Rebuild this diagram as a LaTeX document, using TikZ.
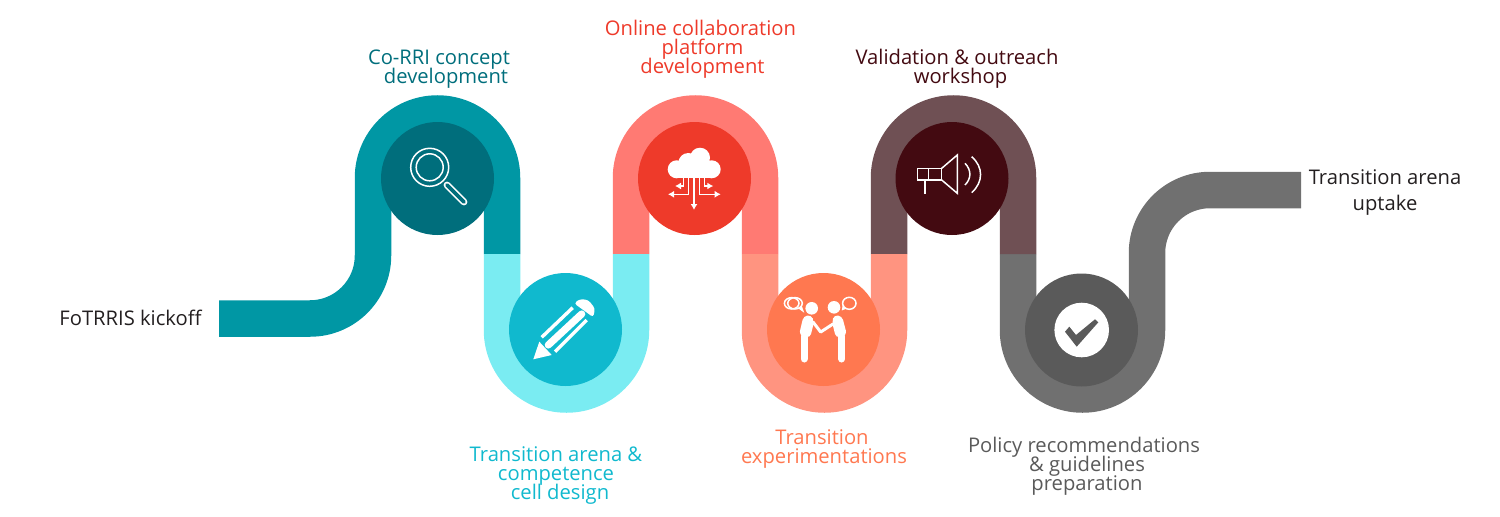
\documentclass[tikz,border=0pt]{standalone}
\usepackage{fontspec}
\setmainfont{Open Sans}
\usepackage{xcolor}
\usetikzlibrary{arrows.meta}
\definecolor{tealband}{HTML}{0097A4}
\definecolor{tealdisc}{HTML}{006E7C}
\definecolor{cyanband}{HTML}{7AECF2}
\definecolor{cyandisc}{HTML}{10B9CE}
\definecolor{pinkband}{HTML}{FF7A73}
\definecolor{reddisc}{HTML}{EE3A2A}
\definecolor{salmonband}{HTML}{FF9480}
\definecolor{orangedisc}{HTML}{FF7850}
\definecolor{mauveband}{HTML}{6F5054}
\definecolor{maroondisc}{HTML}{430A11}
\definecolor{greyband}{HTML}{707070}
\definecolor{greydisc}{HTML}{5A5A5A}
\definecolor{kicktext}{HTML}{231F20}
\newcommand\capfont{\fontsize{10.1}{9.5}\selectfont\lineskiplimit-10pt\relax}
\tikzset{>=latex}
\tikzset{
	band/.style={line width=18.25pt,draw=#1},
	disc/.style={circle,minimum size=56.5pt,inner sep=0pt,fill=#1},
	caption/.style={align=center,font=\capfont,text=#1,inner sep=0pt},
	iconline/.style={draw=white,line width=0.75pt}
}

\begin{document}
\begin{tikzpicture}[x=0.5pt,y=0.5pt]
		\useasboundingbox (0,0) rectangle (1500,516);
		\def\archband#1#2{ % #1 Colour, #2 Left leg
			\draw[band=#1] (#2,262) -- ++(0,76) arc(180:0:64.5) -- ++(0,-76);
		}
		\def\dipband#1#2{ % #1 Colour, #2 Left leg
			\draw[band=#1] (#2,262) -- ++(0,-76) arc(180:360:64.5) -- ++(0,76);
		}
		% ends of the ribbon
		\draw[band=tealband] (219,197.5) -- (310,197.5) arc(-90:0:63) -- (373,338) arc(180:0:64.5) -- (502,262);
		\draw[band=greyband] (1018,262) -- (1018,186) arc(180:360:64.5) -- (1147,263) arc(180:90:63) -- (1301,326);
		\foreach \bandcol/\legx in {pinkband/631,mauveband/889} {
			\archband{\bandcol}{\legx}
		}
		\foreach \bandcol/\legx in {cyanband/502,salmonband/760} {
			\dipband{\bandcol}{\legx}
		}
		% discs
		\node[disc=tealdisc] (search) at (437.5,337.5) {};
		\node[disc=cyandisc] (pencil) at (565.5,186.5) {};
		\node[disc=reddisc] (cloud) at (694.5,337.5) {};
		\node[disc=orangedisc] (people) at (823.5,186.5) {};
		\node[disc=maroondisc] (horn) at (952,337.5) {};
		\node[disc=greydisc] (check) at (1081.5,186) {};
		% magnifier
		\draw[iconline] (429.7,348.7) circle (19);
		\draw[iconline] (429.7,348.7) circle (13.5);
		\draw[white,line width=3.4pt,line cap=round] (447,331) -- (464,314);
		\draw[tealdisc,line width=1.9pt,line cap=round] (447,331) -- (464,314);
		% pencil
		\fill[white] (533.3,156.7) -- (539.3,174.3) -- (551.7,161) -- cycle;
		\draw[white,line width=1.7pt] (541.7,178.7) -- (572.7,208.3);
		\draw[white,line width=3.6pt,line cap=round] (548.3,171) -- (581.7,202);
		\draw[white,line width=1.7pt] (555,164.3) -- (586.7,196);
		\fill[white,rounded corners=1.5pt] (574,212.7) -- (580,217) -- (588.3,216) -- (595,207.7) -- (593.3,198.7) -- cycle;
		% cloud
		\fill[white] (676.7,346.7) circle (9) (688.3,353) circle (10) (700,358.3) circle (10) (711.7,346.7) circle (9);
		\fill[white] (676.7,337.7) rectangle (711.7,350);
		\begin{scope}[iconline,>={Latex[length=3pt,width=3.5pt]}]
			\draw[->] (694,338) -- (694,306);
			\draw[->] (688.3,338) -- (688.3,321.7) -- (668,321.7);
			\draw[->] (699.3,338) -- (699.3,321.7) -- (720.7,321.7);
			\draw[->] (683.3,338) -- (683.3,330) -- (675,330);
			\draw[->] (704.3,338) -- (704.3,330) -- (713.3,330);
		\end{scope}
		% two people shaking hands
		\fill[white] (811.7,207.7) circle (6.3) (834,208.7) circle (6.3);
		\draw[white,line width=3.5pt,line cap=round] (804,180) -- (804,157) (841.7,180) -- (841.7,157);
		\fill[white,rounded corners=2pt] (803.5,200) -- (811.5,201) -- (814,194) -- (810,178) -- (799,181) -- cycle;
		\fill[white,rounded corners=2pt] (842,200) -- (834,201) -- (832,194) -- (836,178) -- (847,181) -- cycle;
		\draw[white,line width=1.5pt,line cap=round,line join=round] (813,194) -- (820.7,184) -- (833,192);
		\draw[iconline] (795,212.7) ellipse (7.3 and 5.7);
		\draw[iconline] (791.7,212.7) ellipse (7.3 and 5.7);
		\draw[iconline] (799,208) -- (802.7,205.3) -- (801,210);
		\draw[iconline] (849.3,212.7) ellipse (6.7 and 6);
		\draw[iconline] (845,207.5) -- (842.7,206.7) -- (843.5,211);
		% megaphone
		\draw[iconline] (917.3,347.7) rectangle (941.7,336);
		\draw[iconline] (928.3,347.7) -- (928.3,336);
		\draw[iconline] (925,336) -- (925,321.7);
		\draw[iconline] (941.7,347.7) -- (957.3,361) -- (957.3,322.7) -- (941.7,336);
		\draw[iconline] (965,352.7) .. controls (971.5,346) and (971.5,337.5) .. (965,331);
		\draw[iconline] (971.7,359.3) .. controls (983.5,349) and (983.5,334) .. (971.7,323.3);
		% tick
		\fill[white] (1081.7,186) circle (27.3);
		\fill[greydisc] (1065,184.3) -- (1069.3,189.3) -- (1076,181) -- (1095,196.7) -- (1098.3,193.7) -- (1076.7,169.3) -- cycle;
		% captions
		\node[caption=kicktext] (kickoff) at (130.5,198) {FoTRRIS kickoff};
		\node[caption=tealdisc] (concept) at (439,447) {Co-RRI concept\\\hspace*{7pt}development};
		\node[caption=cyandisc] (design) at (556,40) {Transition arena \&\\competence\\\hspace*{4pt}cell design};
		\node[caption=reddisc] (platform) at (700.5,467) {Online collaboration\\\hspace*{2pt}platform\\\hspace*{2pt}development};
		\node[caption=orangedisc] (experiment) at (824,66.5) {\hspace*{-2pt}Transition\\experimentations};
		\node[caption=maroondisc] (outreach) at (957,447.5) {Validation \& outreach\\\hspace*{3.5pt}workshop};
		\node[caption=greydisc] (policy) at (1084,50) {Policy recommendations\\\hspace*{3pt}\& guidelines\\\hspace*{3pt}preparation};
		\node[caption=kicktext] (uptake) at (1385,323) {Transition arena\\[3.5pt]uptake};
	\end{tikzpicture}
\end{document}
